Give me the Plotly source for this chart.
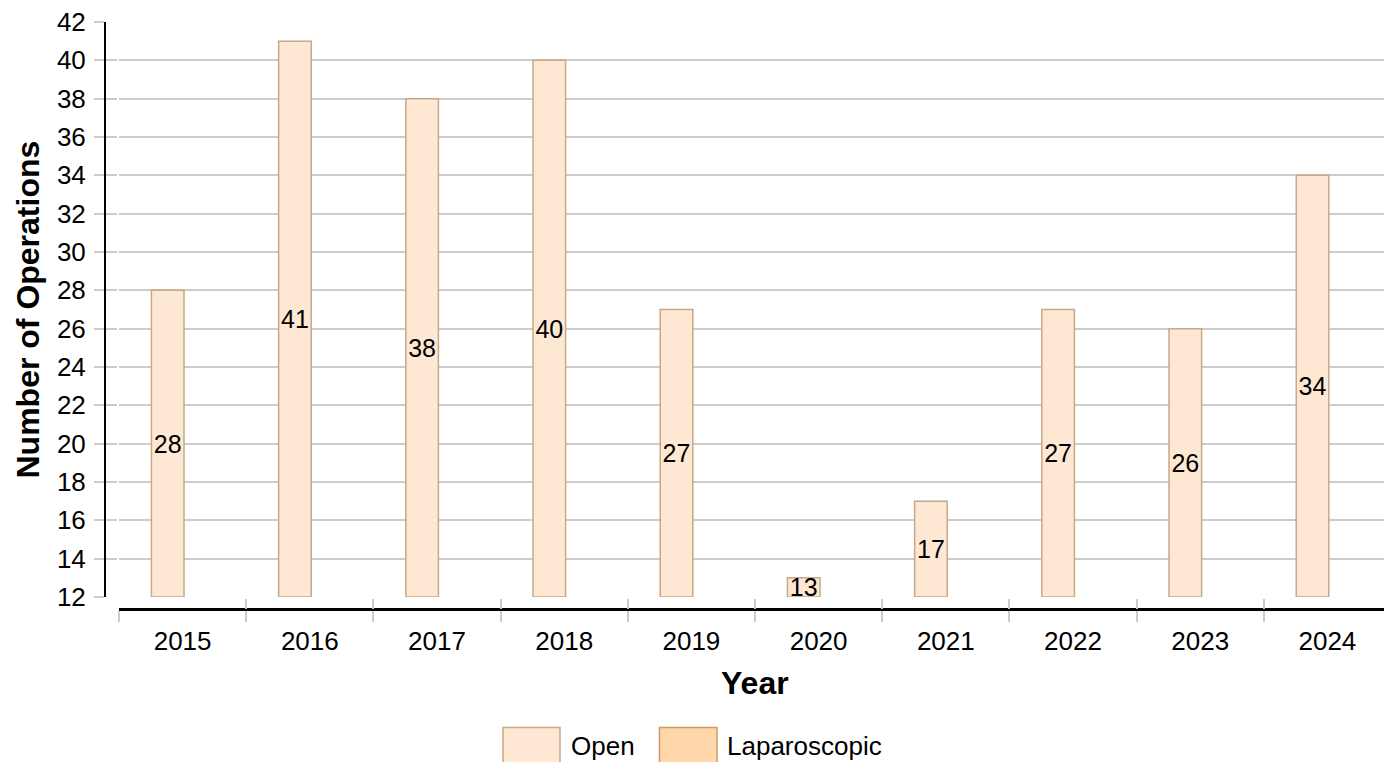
import plotly.graph_objects as go

years = ["2015", "2016", "2017", "2018", "2019", "2020", "2021", "2022", "2023", "2024"]
open_ops = [28, 41, 38, 40, 27, 13, 17, 27, 26, 34]
lap_ops = [0, 0, 0, 0, 0, 0, 0, 0, 0, 0]
y_min, y_max = 12, 42

W, H = 1384, 762
ML, MR, MT, MB = 105, 0, 22, 153
PW = W - ML - MR
PH = H - MT - MB

def px_x(px):
    return (px - ML) / PW

def px_y(py):
    return (H - MB - py) / PH

FONT = "Liberation Sans, Arial, sans-serif"
open_fill, open_line = "#FFE8D3", "#C8A888"
lap_fill, lap_line = "#FFD7AA", "#D09C66"
grid_c = "#CCCCCC"

fig = go.Figure()
fig.add_trace(go.Bar(
    x=years, y=[v - y_min for v in open_ops], base=y_min,
    text=[str(v) for v in open_ops], textposition="inside",
    insidetextanchor="middle", constraintext="none", textangle=0,
    insidetextfont=dict(family=FONT, size=25, color="black"),
    marker=dict(color=open_fill, line=dict(color=open_line, width=1.5)),
    width=0.256, offset=-0.245, name="Open", showlegend=False,
))
fig.add_trace(go.Bar(
    x=years, y=lap_ops,
    marker=dict(color=lap_fill, line=dict(color=lap_line, width=1.5)),
    width=0.256, offset=0.011, name="Laparoscopic", showlegend=False,
))
# helper axes for crossing tick marks
fig.add_trace(go.Scatter(x=[], y=[], xaxis="x2", yaxis="y2", showlegend=False, hoverinfo="skip"))

xdom = [px_x(119), 1]
ydom = [px_y(597), 1]
xr = [-0.5, -0.5 + (W - 119) / 127.2]

fig.update_layout(
    width=W, height=H,
    margin=dict(l=ML, r=MR, t=MT, b=MB, autoexpand=False),
    paper_bgcolor="white", plot_bgcolor="white",
    barmode="overlay",
    font=dict(family=FONT, size=25, color="black"),
    showlegend=False,
    xaxis=dict(
        type="category", domain=xdom, anchor="free", position=0, range=xr,
        showline=True, linecolor="black", linewidth=2.5,
        ticks="outside", tickson="boundaries", ticklen=11, tickwidth=1.5, tickcolor=grid_c,
        ticklabelstandoff=8,
        showgrid=False, tickfont=dict(family=FONT, size=26, color="black"),
    ),
    yaxis=dict(
        domain=ydom, anchor="free", position=0, range=[y_min, y_max], dtick=2,
        showline=True, linecolor="black", linewidth=2,
        ticks="outside", ticklen=10, tickwidth=1.5, tickcolor=grid_c,
        ticklabelstandoff=3,
        showgrid=True, gridcolor=grid_c, gridwidth=1.5, zeroline=False,
        tickfont=dict(family=FONT, size=26, color="black"),
    ),
    xaxis2=dict(
        overlaying="x", domain=xdom, anchor="free", position=0, range=xr,
        tickvals=[i - 0.5 for i in range(len(years))], ticks="inside", ticklen=10,
        tickwidth=1.5, tickcolor=grid_c, showticklabels=False, showgrid=False,
        zeroline=False, showline=False,
    ),
    yaxis2=dict(
        overlaying="y", anchor="free", position=0, range=[y_min, y_max], dtick=2,
        ticks="inside", ticklen=11, tickwidth=1.5, tickcolor=grid_c,
        showticklabels=False, showgrid=False, zeroline=False, showline=False,
    ),
)

annotations = [
    dict(text="<b>Number of Operations</b>", xref="paper", yref="paper",
         x=px_x(27), y=px_y(309.5), xanchor="center", yanchor="middle",
         textangle=-90, showarrow=False, font=dict(family=FONT, size=32, color="black")),
    dict(text="<b>Year</b>", xref="paper", yref="paper",
         x=px_x(755), y=px_y(683), xanchor="center", yanchor="middle",
         showarrow=False, font=dict(family=FONT, size=32, color="black")),
    dict(text="Open", xref="paper", yref="paper", x=px_x(569), y=px_y(746),
         xanchor="left", yanchor="middle", showarrow=False,
         font=dict(family=FONT, size=26, color="black")),
    dict(text="Laparoscopic", xref="paper", yref="paper", x=px_x(725), y=px_y(746),
         xanchor="left", yanchor="middle", showarrow=False,
         font=dict(family=FONT, size=26, color="black")),
]
fig.update_layout(annotations=annotations)

shapes = [
    dict(type="rect", xref="paper", yref="paper", x0=px_x(503), x1=px_x(560),
         y0=px_y(727.5), y1=px_y(772), fillcolor=open_fill, line=dict(color=open_line, width=1.5)),
    dict(type="rect", xref="paper", yref="paper", x0=px_x(659.5), x1=px_x(717),
         y0=px_y(727.5), y1=px_y(772), fillcolor=lap_fill, line=dict(color=lap_line, width=1.5)),
]
fig.update_layout(shapes=shapes)

fig.write_html("out.html", config={"displayModeBar": False},
               post_script="document.body.style.margin='0';document.body.style.overflow='hidden';")
